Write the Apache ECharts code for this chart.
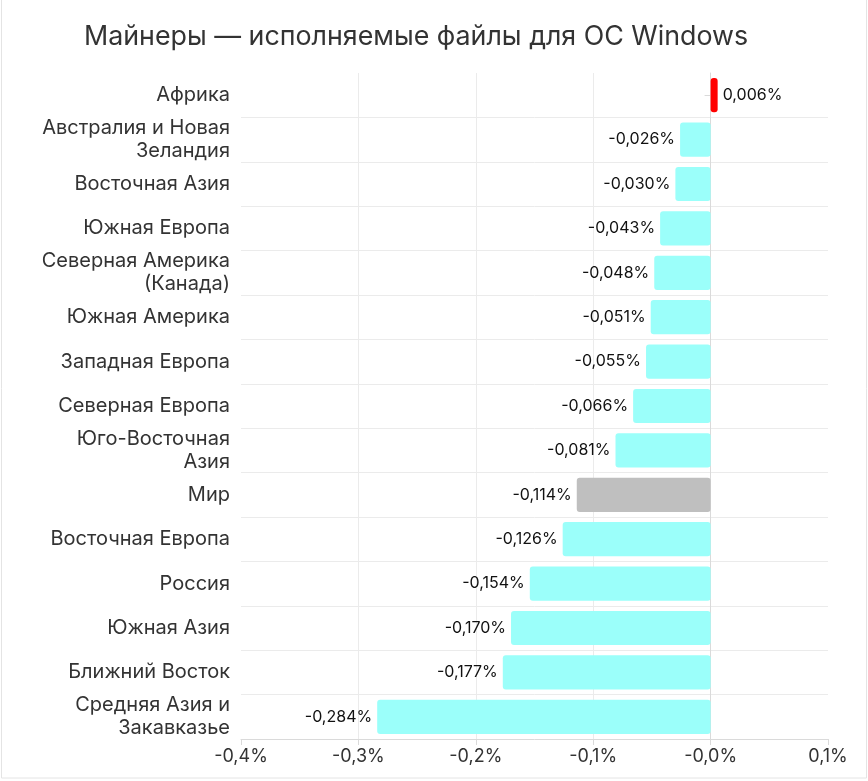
<!DOCTYPE html>
<html>
<head>
<meta charset="utf-8">
<title>Майнеры — исполняемые файлы для ОС Windows</title>
<script src="https://cdn.jsdelivr.net/npm/echarts@6/dist/echarts.min.js"></script>
<style>
  html, body { margin: 0; padding: 0; background: #fff; }
  #chart { width: 868px; height: 781px; }
</style>
</head>
<body>
<div id="chart"></div>
<script>
// regions, top to bottom
const regions = [
  'Африка',
  'Австралия и Новая\nЗеландия',
  'Восточная Азия',
  'Южная Европа',
  'Северная Америка\n(Канада)',
  'Южная Америка',
  'Западная Европа',
  'Северная Европа',
  'Юго-Восточная\nАзия',
  'Мир',
  'Восточная Европа',
  'Россия',
  'Южная Азия',
  'Ближний Восток',
  'Средняя Азия и\nЗакавказье'
];

// change, percentage points
const changes = [
  0.006, -0.026, -0.030, -0.043, -0.048, -0.051, -0.055, -0.066,
  -0.081, -0.114, -0.126, -0.154, -0.170, -0.177, -0.284
];

const xTicks = { min: -0.4, max: 0.1, step: 0.1 };

const FONT = 'Inter, "Noto Sans", sans-serif';
const TEXT = '#333333';

const comma = (v, digits) => v.toFixed(digits).replace('.', ',');

const barColor = (name, value) => {
  if (value > 0) return '#ff0000';
  if (name === 'Мир') return '#bfbfbf';
  return '#9bfffa';
};

const seriesData = changes.map((v, i) => ({
  value: v,
  itemStyle: { color: barColor(regions[i], v) },
  label: { position: v >= 0 ? 'right' : 'left' }
}));

const chart = echarts.init(document.getElementById('chart'));

chart.setOption({
  animation: false,
  backgroundColor: '#ffffff',
  textStyle: { fontFamily: FONT },
  title: {
    text: 'Майнеры — исполняемые файлы для ОС Windows',
    left: 79,
    top: 18,
    textStyle: { fontFamily: FONT, fontSize: 26.8, fontWeight: 'normal', color: TEXT }
  },
  graphic: [{
    type: 'rect',
    silent: true,
    shape: { x: 1.5, y: -2, width: 865, height: 780 },
    style: { fill: 'none', stroke: '#e4e4e4', lineWidth: 1 }
  }],
  grid: { left: 241, right: 40, top: 73, bottom: 42 },
  xAxis: {
    type: 'value',
    min: xTicks.min,
    max: xTicks.max,
    interval: xTicks.step,
    axisLine: { show: true, lineStyle: { color: '#dadada', width: 1 } },
    axisTick: { show: true, length: 6, lineStyle: { color: '#dadada' } },
    axisLabel: {
      margin: 9,
      fontSize: 18,
      color: TEXT,
      formatter: v => (Math.abs(v) < 1e-9 ? '-0,0' : comma(v, 1)) + '%'
    },
    splitLine: {
      show: true,
      showMinLine: false,
      showMaxLine: false,
      lineStyle: { color: '#ebebeb', width: 1 }
    }
  },
  yAxis: {
    type: 'category',
    inverse: true,
    data: regions,
    axisLine: { show: true, lineStyle: { color: '#dadada', width: 1 } },
    axisTick: { show: true, alignWithLabel: true, length: 6, lineStyle: { color: '#dadada' } },
    axisLabel: {
      margin: 11,
      fontSize: 20,
      lineHeight: 23,
      color: TEXT,
      align: 'right',
      padding: [3, 0, 0, 0]
    },
    splitLine: {
      show: true,
      showMinLine: false,
      showMaxLine: false,
      lineStyle: { color: '#ebebeb', width: 1 }
    }
  },
  series: [{
    type: 'bar',
    data: seriesData,
    barCategoryGap: '23%',
    itemStyle: { borderRadius: 3 },
    label: {
      show: true,
      distance: 5,
      fontSize: 16,
      color: '#111111',
      formatter: p => comma(p.value, 3) + '%'
    }
  }]
});
</script>
</body>
</html>
